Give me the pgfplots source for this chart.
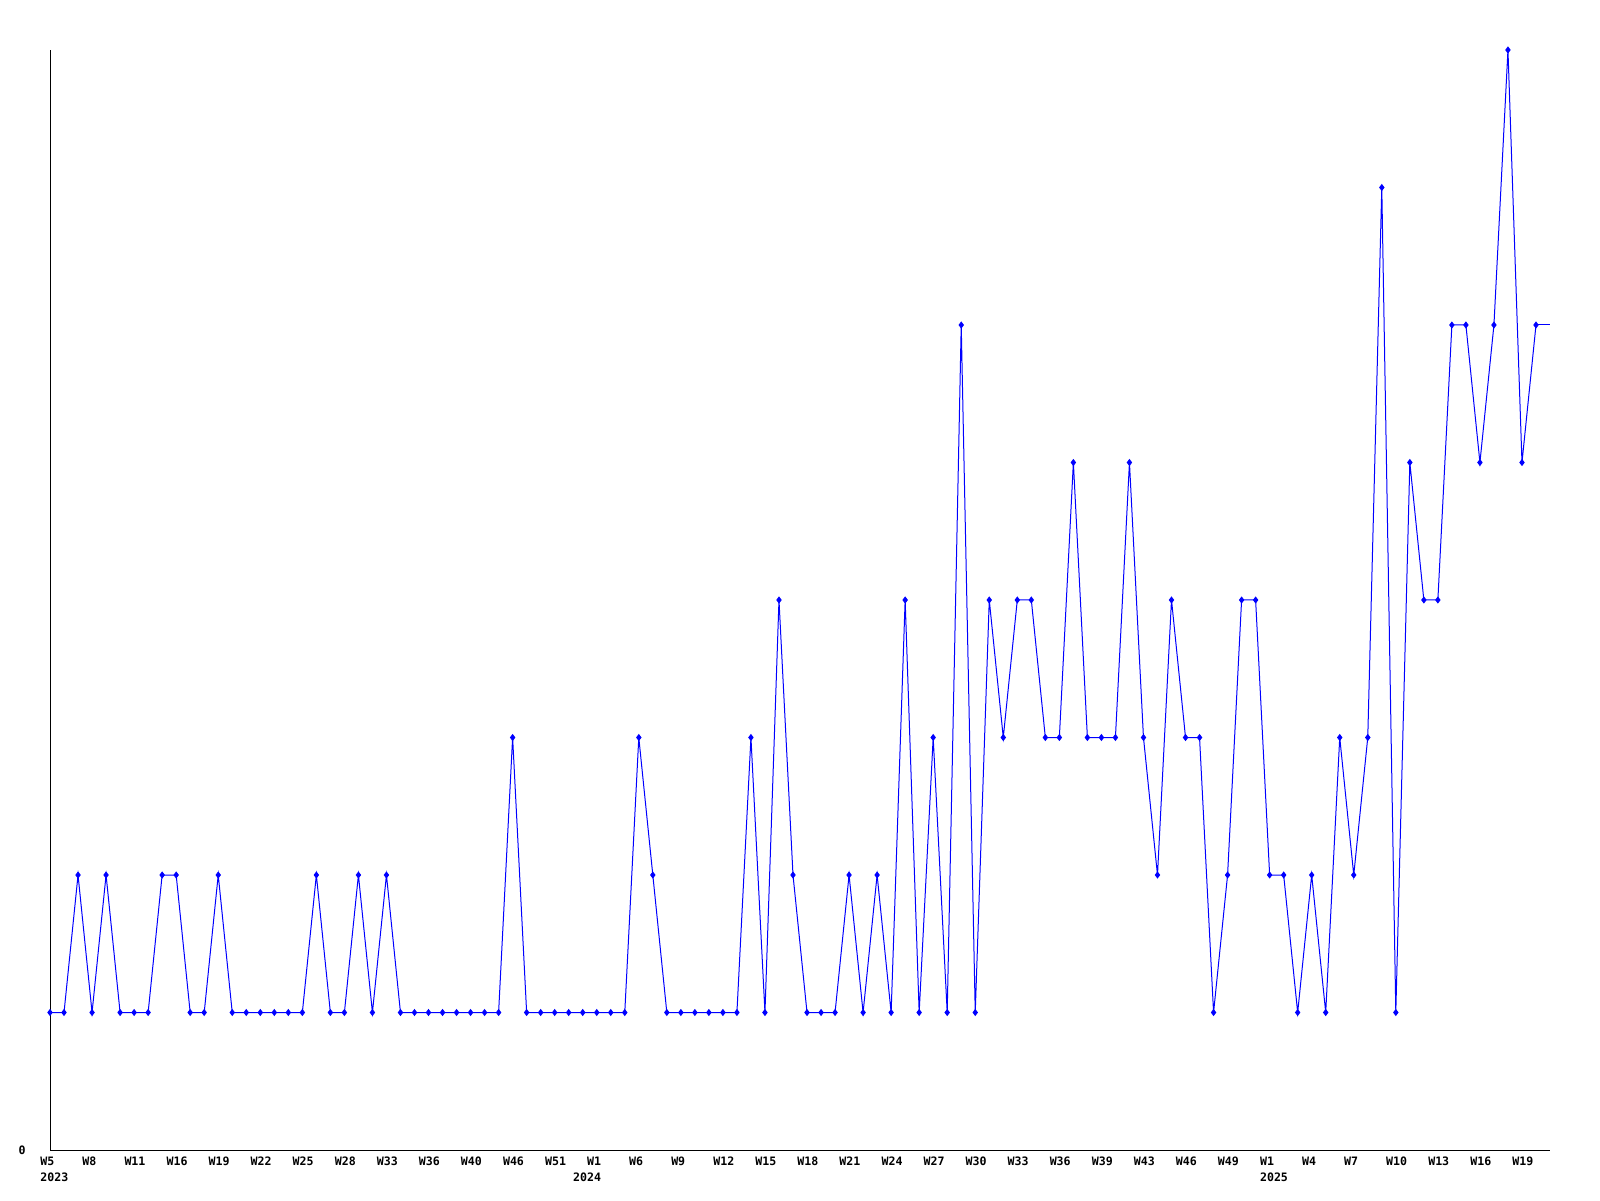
\documentclass[border=0pt]{standalone}
\usepackage{pgfplots}
\pgfplotsset{compat=1.18}
\usepackage{fontspec}
\setmainfont{DejaVu Sans Mono}
\pgfplotstableread{
x y
0 1
1 1
2 2
3 1
4 2
5 1
6 1
7 1
8 2
9 2
10 1
11 1
12 2
13 1
14 1
15 1
16 1
17 1
18 1
19 2
20 1
21 1
22 2
23 1
24 2
25 1
26 1
27 1
28 1
29 1
30 1
31 1
32 1
33 3
34 1
35 1
36 1
37 1
38 1
39 1
40 1
41 1
42 3
43 2
44 1
45 1
46 1
47 1
48 1
49 1
50 3
51 1
52 4
53 2
54 1
55 1
56 1
57 2
58 1
59 2
60 1
61 4
62 1
63 3
64 1
65 6
66 1
67 4
68 3
69 4
70 4
71 3
72 3
73 5
74 3
75 3
76 3
77 5
78 3
79 2
80 4
81 3
82 3
83 1
84 2
85 4
86 4
87 2
88 2
89 1
90 2
91 1
92 3
93 2
94 3
95 7
96 1
97 5
98 4
99 4
100 6
101 6
102 5
103 6
104 8
105 5
106 6
}\weekly
\begin{document}
\begin{tikzpicture}
\useasboundingbox (-25pt,-25pt) rectangle (775pt,575pt);
\begin{axis}[
  at={(0,0)}, anchor=south west,
  scale only axis, width=750pt, height=550pt,
  xmin=0, xmax=107, ymin=0, ymax=8,
  axis lines=left,
  axis line style={-, black, line width=0.5pt},
  major tick length=0pt,
  xtick={0,3,...,105},
  xticklabels={W5,W8,W11,W16,W19,W22,W25,W28,W33,W36,W40,W46,W51,W1,W6,W9,W12,W15,W18,W21,W24,W27,W30,W33,W36,W39,W43,W46,W49,W1,W4,W7,W10,W13,W16,W19},
  xticklabel style={anchor=north west, inner sep=0pt, xshift=-5pt, yshift=-3.4pt, font=\bfseries\fontsize{5.8}{6}\selectfont},
  extra x ticks={0,38,87},
  extra x tick labels={2023,2024,2025},
  extra x tick style={xticklabel style={yshift=-7.6pt}},
  ytick={0}, yticklabels={0},
  yticklabel style={anchor=east, inner sep=0pt, xshift=-12pt, font=\bfseries\fontsize{5.8}{6}\selectfont},
  clip=false,
]
\addplot[color={rgb,255:red,0;green,0;blue,255}, line width=0.5pt, mark=diamond*, mark size=1.4pt, mark options={solid}] table[x=x,y=y] {\weekly};
\addplot[color={rgb,255:red,0;green,0;blue,255}, line width=0.5pt, no marks] coordinates {(106,6) (107,6)};
\end{axis}
\end{tikzpicture}
\end{document}
